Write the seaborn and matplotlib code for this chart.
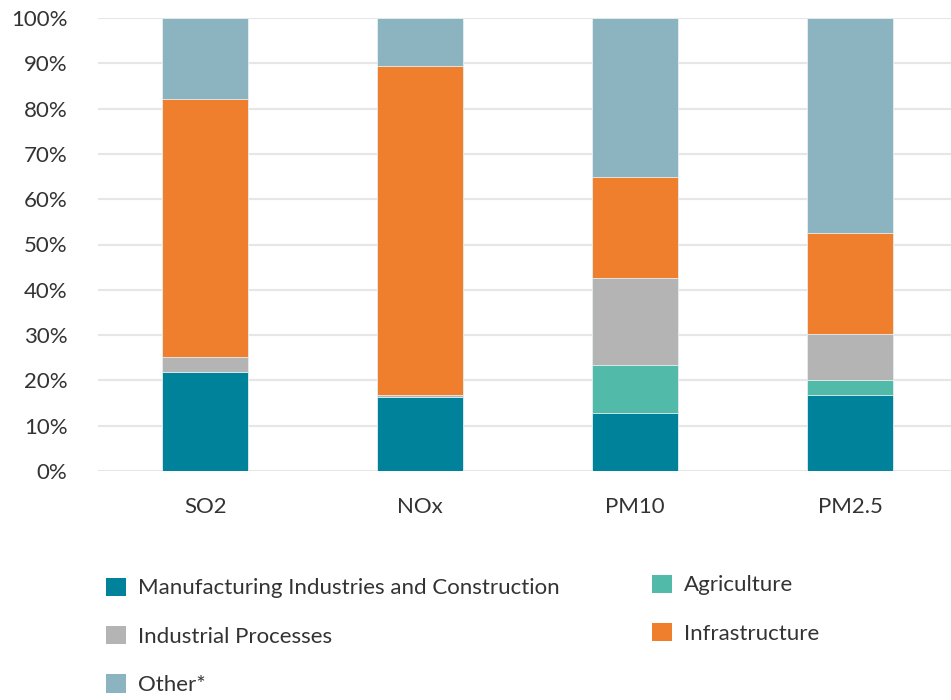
import matplotlib
matplotlib.use("Agg")
import matplotlib.pyplot as plt
from matplotlib.patches import Patch
import numpy as np
import pandas as pd
import seaborn as sns

pollutants = ["SO2", "NOx", "PM10", "PM2.5"]
sectors = ["Manufacturing Industries and Construction", "Agriculture",
           "Industrial Processes", "Infrastructure", "Other*"]
manufacturing = [21.8, 16.3, 12.9, 16.8]
agriculture = [0.0, 0.0, 10.6, 3.3]
industrial = [3.4, 0.5, 19.0, 10.1]
infrastructure = [56.9, 72.6, 22.4, 22.4]
other = [17.9, 10.6, 35.1, 47.4]
colors = ["#00829B", "#52BAA9", "#B4B4B4", "#F07F2D", "#8BB3C0"]
yticks = [0, 10, 20, 30, 40, 50, 60, 70, 80, 90, 100]

sns.set_theme(style="white")
plt.rcParams["font.family"] = ["Lato", "DejaVu Sans"]

shares = np.array([manufacturing, agriculture, industrial, infrastructure, other])
tops = shares.cumsum(axis=0)
df = pd.DataFrame({
    "pollutant": np.tile(pollutants, len(sectors)),
    "sector": np.repeat(sectors, len(pollutants)),
    "top": tops.ravel(),
})

fig = plt.figure(figsize=(9.51, 7.0), dpi=100)
ax = fig.add_axes([98 / 951, 1 - 471 / 700, 1 - 98 / 951, (471 - 18) / 700])

# stacked bars: draw cumulative totals from the top segment down
for sector, color in reversed(list(zip(sectors, colors))):
    sub = df[df["sector"] == sector]
    sns.barplot(data=sub, x="pollutant", y="top", order=pollutants,
                color=color, width=0.4, saturation=1, ax=ax,
                edgecolor="#E8F0F2", linewidth=0.6, zorder=2)

ax.set_ylim(0, 100)
ax.set_xlim(-0.5, (951 - 205) / 215)
ax.set_yticks(yticks)
ax.set_yticklabels([f"{v}%" for v in yticks])
ax.yaxis.grid(True, color="#E6E6E6", linewidth=1.5, zorder=0)
ax.set_axisbelow(True)
for s in ax.spines.values():
    s.set_visible(False)
ax.set_xlabel("")
ax.set_ylabel("")
ax.tick_params(axis="y", length=0, pad=22, labelsize=16, labelcolor="#333333")
ax.tick_params(axis="x", length=0, pad=19, labelsize=16, labelcolor="#333333")

handles = [Patch(facecolor=c, edgecolor="none", label=s) for s, c in zip(sectors, colors)]
legend_kw = dict(frameon=False, fontsize=16, handlelength=0.9, handleheight=0.9,
                 handletextpad=0.55, labelspacing=1.24, loc="upper left",
                 borderaxespad=0, borderpad=0, labelcolor="#333333")
leg1 = fig.legend(handles=[handles[0], handles[2], handles[4]],
                  bbox_to_anchor=(106 / 951, 1 - 577.5 / 700), **legend_kw)
leg2 = fig.legend(handles=[handles[1], handles[3]],
                  bbox_to_anchor=(652 / 951, 1 - 574.5 / 700), **legend_kw)

fig.savefig("out.png", dpi=100)
